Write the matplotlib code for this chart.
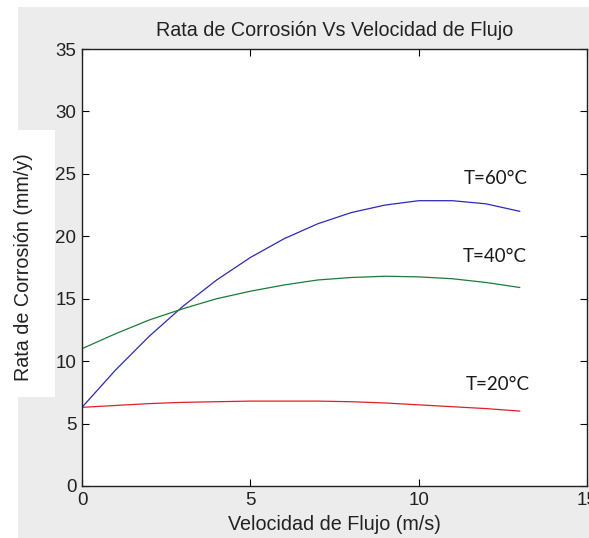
import matplotlib.pyplot as plt
from matplotlib.patches import Rectangle

# valores (velocidad en m/s, rata en mm/y)
velocidad = [0, 1, 2, 3, 4, 5, 6, 7, 8, 9, 10, 11, 12, 13]
rata_60 = [6.3, 9.3, 12.0, 14.4, 16.5, 18.3, 19.8, 21.0, 21.9, 22.5, 22.85, 22.85, 22.6, 22.0]
rata_40 = [11.0, 12.2, 13.3, 14.2, 15.0, 15.6, 16.1, 16.5, 16.7, 16.8, 16.75, 16.6, 16.3, 15.9]
rata_20 = [6.3, 6.45, 6.6, 6.7, 6.75, 6.8, 6.8, 6.8, 6.75, 6.65, 6.5, 6.35, 6.2, 6.0]

etiquetas = ["T=60°C", "T=40°C", "T=20°C"]
pos_etiquetas = [(12.3, 24.6), (12.25, 18.4), (12.35, 8.1)]

fuente = ["Liberation Sans", "DejaVu Sans"]

fig = plt.figure(figsize=(5.89, 5.38), dpi=100, facecolor="white")
W, H = 589, 538
fig.patches.append(Rectangle((18 / W, 0), 1, (H - 7) / H, transform=fig.transFigure,
                             facecolor="#ececec", edgecolor="none", zorder=-10))
fig.patches.append(Rectangle((0, (H - 397) / H), 55 / W, 267 / H, transform=fig.transFigure,
                             facecolor="white", edgecolor="none", zorder=-9))

ax = fig.add_axes([82 / W, (H - 486) / H, (587 - 82) / W, (486 - 49) / H])
ax.set_facecolor("white")

ax.plot(velocidad, rata_60, color="#2b2bb5", lw=0.9)
ax.plot(velocidad, rata_40, color="#1d7a3a", lw=0.9)
ax.plot(velocidad, rata_20, color="#e02028", lw=0.9)

for txt, (x, y) in zip(etiquetas, pos_etiquetas):
    ax.text(x, y, txt, ha="center", va="center", fontsize=13.5, family="Lato", color="#1a1a1a")

ax.set_xlim(0, 15)
ax.set_ylim(0, 35)
ax.set_xticks([0, 5, 10, 15])
ax.set_yticks([0, 5, 10, 15, 20, 25, 30, 35])
ax.tick_params(direction="in", top=True, right=True, length=5, width=0.8,
               labelsize=13.5, pad=4)
for lab in ax.get_xticklabels() + ax.get_yticklabels():
    lab.set_family(fuente)
    lab.set_color("#222222")
for s in ax.spines.values():
    s.set_linewidth(1.0)
    s.set_color("#222222")

ax.set_title("Rata de Corrosión Vs Velocidad de Flujo", fontsize=14.2, family=fuente,
             color="#222222", pad=9)
ax.set_xlabel("Velocidad de Flujo (m/s)", fontsize=14.2, family=fuente, color="#222222", labelpad=5)
ax.set_ylabel("Rata de Corrosión (mm/y)", fontsize=14.2, family=fuente, color="#222222", labelpad=16)

fig.savefig("out.png", dpi=100, facecolor=fig.get_facecolor())
